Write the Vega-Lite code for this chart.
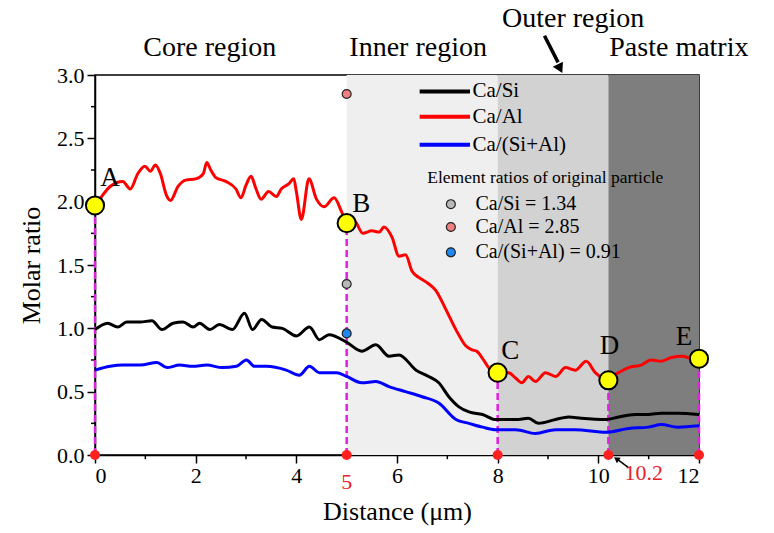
{
  "$schema": "https://vega.github.io/schema/vega-lite/v6.json",
  "width": 604,
  "height": 380,
  "autosize": {"type": "none"},
  "padding": {"left": 95, "top": 75, "right": 75, "bottom": 78},
  "background": "white",
  "config": {
    "font": "Liberation Serif",
    "view": {"stroke": "black", "strokeWidth": 1.5},
    "axis": {"labelFont": "Liberation Serif", "titleFont": "Liberation Serif"}
  },
  "datasets": {
    "regions": [
      {"r": "Inner", "x1": 5, "x2": 8, "y1": 0, "y2": 3},
      {"r": "Outer", "x1": 8, "x2": 10.2, "y1": 0, "y2": 3},
      {"r": "Paste", "x1": 10.2, "x2": 12, "y1": 0, "y2": 3}
    ],
    "xminor": [
      {"x": 1, "a": 0, "b": -0.033}, {"x": 3, "a": 0, "b": -0.033}, {"x": 5, "a": 0, "b": -0.033},
      {"x": 7, "a": 0, "b": -0.033}, {"x": 9, "a": 0, "b": -0.033}, {"x": 11, "a": 0, "b": -0.033}
    ],
    "yminor": [
      {"v": 0.25, "a": 0, "b": -0.08}, {"v": 0.75, "a": 0, "b": -0.08}, {"v": 1.25, "a": 0, "b": -0.08},
      {"v": 1.75, "a": 0, "b": -0.08}, {"v": 2.25, "a": 0, "b": -0.08}, {"v": 2.75, "a": 0, "b": -0.08}
    ],
    "lines": [
      {"s": "Ca/Si", "x": 0, "v": 0.99}, {"s": "Ca/Si", "x": 0.25, "v": 1.04}, {"s": "Ca/Si", "x": 0.45, "v": 1.01}, {"s": "Ca/Si", "x": 0.63, "v": 1.05}, {"s": "Ca/Si", "x": 0.9, "v": 1.05}, {"s": "Ca/Si", "x": 1.13, "v": 1.06}, {"s": "Ca/Si", "x": 1.33, "v": 0.99}, {"s": "Ca/Si", "x": 1.55, "v": 1.04}, {"s": "Ca/Si", "x": 1.75, "v": 1.05}, {"s": "Ca/Si", "x": 1.95, "v": 1.01}, {"s": "Ca/Si", "x": 2.08, "v": 1.04}, {"s": "Ca/Si", "x": 2.28, "v": 0.99}, {"s": "Ca/Si", "x": 2.47, "v": 1.03}, {"s": "Ca/Si", "x": 2.73, "v": 0.99}, {"s": "Ca/Si", "x": 2.97, "v": 1.12}, {"s": "Ca/Si", "x": 3.13, "v": 0.99}, {"s": "Ca/Si", "x": 3.31, "v": 1.07}, {"s": "Ca/Si", "x": 3.52, "v": 1.01}, {"s": "Ca/Si", "x": 3.72, "v": 1.0}, {"s": "Ca/Si", "x": 4.0, "v": 0.94}, {"s": "Ca/Si", "x": 4.26, "v": 1.01}, {"s": "Ca/Si", "x": 4.46, "v": 0.91}, {"s": "Ca/Si", "x": 4.65, "v": 0.95}, {"s": "Ca/Si", "x": 5.0, "v": 0.89}, {"s": "Ca/Si", "x": 5.3, "v": 0.82}, {"s": "Ca/Si", "x": 5.58, "v": 0.87}, {"s": "Ca/Si", "x": 5.84, "v": 0.78}, {"s": "Ca/Si", "x": 6.04, "v": 0.79}, {"s": "Ca/Si", "x": 6.38, "v": 0.67}, {"s": "Ca/Si", "x": 6.63, "v": 0.62}, {"s": "Ca/Si", "x": 6.83, "v": 0.57}, {"s": "Ca/Si", "x": 7.03, "v": 0.46}, {"s": "Ca/Si", "x": 7.23, "v": 0.38}, {"s": "Ca/Si", "x": 7.43, "v": 0.34}, {"s": "Ca/Si", "x": 7.7, "v": 0.32}, {"s": "Ca/Si", "x": 7.96, "v": 0.28}, {"s": "Ca/Si", "x": 8.36, "v": 0.28}, {"s": "Ca/Si", "x": 8.61, "v": 0.29}, {"s": "Ca/Si", "x": 8.81, "v": 0.25}, {"s": "Ca/Si", "x": 9.15, "v": 0.28}, {"s": "Ca/Si", "x": 9.41, "v": 0.3}, {"s": "Ca/Si", "x": 9.66, "v": 0.29}, {"s": "Ca/Si", "x": 10.16, "v": 0.28}, {"s": "Ca/Si", "x": 10.4, "v": 0.3}, {"s": "Ca/Si", "x": 10.73, "v": 0.32}, {"s": "Ca/Si", "x": 10.99, "v": 0.32}, {"s": "Ca/Si", "x": 11.25, "v": 0.33}, {"s": "Ca/Si", "x": 11.58, "v": 0.33}, {"s": "Ca/Si", "x": 12, "v": 0.32},
      {"s": "Ca/Al", "x": 0, "v": 1.97}, {"s": "Ca/Al", "x": 0.15, "v": 2.05}, {"s": "Ca/Al", "x": 0.3, "v": 2.12}, {"s": "Ca/Al", "x": 0.55, "v": 2.16}, {"s": "Ca/Al", "x": 0.7, "v": 2.1}, {"s": "Ca/Al", "x": 0.85, "v": 2.22}, {"s": "Ca/Al", "x": 0.99, "v": 2.28}, {"s": "Ca/Al", "x": 1.1, "v": 2.24}, {"s": "Ca/Al", "x": 1.2, "v": 2.29}, {"s": "Ca/Al", "x": 1.3, "v": 2.22}, {"s": "Ca/Al", "x": 1.42, "v": 2.05}, {"s": "Ca/Al", "x": 1.5, "v": 2.01}, {"s": "Ca/Al", "x": 1.65, "v": 2.12}, {"s": "Ca/Al", "x": 1.8, "v": 2.17}, {"s": "Ca/Al", "x": 2.0, "v": 2.18}, {"s": "Ca/Al", "x": 2.15, "v": 2.22}, {"s": "Ca/Al", "x": 2.22, "v": 2.31}, {"s": "Ca/Al", "x": 2.3, "v": 2.25}, {"s": "Ca/Al", "x": 2.4, "v": 2.19}, {"s": "Ca/Al", "x": 2.6, "v": 2.16}, {"s": "Ca/Al", "x": 2.8, "v": 2.1}, {"s": "Ca/Al", "x": 2.9, "v": 2.03}, {"s": "Ca/Al", "x": 3.0, "v": 2.13}, {"s": "Ca/Al", "x": 3.1, "v": 2.2}, {"s": "Ca/Al", "x": 3.2, "v": 2.1}, {"s": "Ca/Al", "x": 3.3, "v": 2.02}, {"s": "Ca/Al", "x": 3.45, "v": 2.08}, {"s": "Ca/Al", "x": 3.6, "v": 2.04}, {"s": "Ca/Al", "x": 3.7, "v": 2.1}, {"s": "Ca/Al", "x": 3.85, "v": 2.14}, {"s": "Ca/Al", "x": 3.95, "v": 2.18}, {"s": "Ca/Al", "x": 4.0, "v": 2.08}, {"s": "Ca/Al", "x": 4.1, "v": 1.86}, {"s": "Ca/Al", "x": 4.25, "v": 2.18}, {"s": "Ca/Al", "x": 4.4, "v": 2.02}, {"s": "Ca/Al", "x": 4.55, "v": 1.96}, {"s": "Ca/Al", "x": 4.75, "v": 2.03}, {"s": "Ca/Al", "x": 4.9, "v": 1.92}, {"s": "Ca/Al", "x": 5.0, "v": 1.83}, {"s": "Ca/Al", "x": 5.15, "v": 1.85}, {"s": "Ca/Al", "x": 5.32, "v": 1.75}, {"s": "Ca/Al", "x": 5.5, "v": 1.77}, {"s": "Ca/Al", "x": 5.65, "v": 1.76}, {"s": "Ca/Al", "x": 5.74, "v": 1.8}, {"s": "Ca/Al", "x": 5.9, "v": 1.72}, {"s": "Ca/Al", "x": 6.04, "v": 1.57}, {"s": "Ca/Al", "x": 6.17, "v": 1.58}, {"s": "Ca/Al", "x": 6.3, "v": 1.45}, {"s": "Ca/Al", "x": 6.44, "v": 1.4}, {"s": "Ca/Al", "x": 6.6, "v": 1.36}, {"s": "Ca/Al", "x": 6.77, "v": 1.3}, {"s": "Ca/Al", "x": 6.97, "v": 1.15}, {"s": "Ca/Al", "x": 7.17, "v": 0.99}, {"s": "Ca/Al", "x": 7.37, "v": 0.86}, {"s": "Ca/Al", "x": 7.49, "v": 0.83}, {"s": "Ca/Al", "x": 7.58, "v": 0.82}, {"s": "Ca/Al", "x": 7.72, "v": 0.75}, {"s": "Ca/Al", "x": 7.82, "v": 0.69}, {"s": "Ca/Al", "x": 7.96, "v": 0.65}, {"s": "Ca/Al", "x": 8.1, "v": 0.64}, {"s": "Ca/Al", "x": 8.22, "v": 0.65}, {"s": "Ca/Al", "x": 8.35, "v": 0.61}, {"s": "Ca/Al", "x": 8.48, "v": 0.57}, {"s": "Ca/Al", "x": 8.61, "v": 0.62}, {"s": "Ca/Al", "x": 8.75, "v": 0.58}, {"s": "Ca/Al", "x": 8.95, "v": 0.65}, {"s": "Ca/Al", "x": 9.15, "v": 0.62}, {"s": "Ca/Al", "x": 9.35, "v": 0.69}, {"s": "Ca/Al", "x": 9.54, "v": 0.67}, {"s": "Ca/Al", "x": 9.76, "v": 0.74}, {"s": "Ca/Al", "x": 9.94, "v": 0.65}, {"s": "Ca/Al", "x": 10.16, "v": 0.6}, {"s": "Ca/Al", "x": 10.4, "v": 0.65}, {"s": "Ca/Al", "x": 10.6, "v": 0.69}, {"s": "Ca/Al", "x": 10.85, "v": 0.71}, {"s": "Ca/Al", "x": 11.05, "v": 0.75}, {"s": "Ca/Al", "x": 11.25, "v": 0.74}, {"s": "Ca/Al", "x": 11.45, "v": 0.77}, {"s": "Ca/Al", "x": 11.68, "v": 0.78}, {"s": "Ca/Al", "x": 11.85, "v": 0.76}, {"s": "Ca/Al", "x": 12, "v": 0.76},
      {"s": "Ca/(Si+Al)", "x": 0, "v": 0.67}, {"s": "Ca/(Si+Al)", "x": 0.3, "v": 0.7}, {"s": "Ca/(Si+Al)", "x": 0.55, "v": 0.71}, {"s": "Ca/(Si+Al)", "x": 0.9, "v": 0.71}, {"s": "Ca/(Si+Al)", "x": 1.23, "v": 0.73}, {"s": "Ca/(Si+Al)", "x": 1.43, "v": 0.69}, {"s": "Ca/(Si+Al)", "x": 1.68, "v": 0.71}, {"s": "Ca/(Si+Al)", "x": 1.94, "v": 0.7}, {"s": "Ca/(Si+Al)", "x": 2.22, "v": 0.71}, {"s": "Ca/(Si+Al)", "x": 2.53, "v": 0.69}, {"s": "Ca/(Si+Al)", "x": 2.81, "v": 0.7}, {"s": "Ca/(Si+Al)", "x": 3.01, "v": 0.75}, {"s": "Ca/(Si+Al)", "x": 3.17, "v": 0.7}, {"s": "Ca/(Si+Al)", "x": 3.41, "v": 0.7}, {"s": "Ca/(Si+Al)", "x": 3.8, "v": 0.67}, {"s": "Ca/(Si+Al)", "x": 4.06, "v": 0.63}, {"s": "Ca/(Si+Al)", "x": 4.26, "v": 0.7}, {"s": "Ca/(Si+Al)", "x": 4.46, "v": 0.65}, {"s": "Ca/(Si+Al)", "x": 4.8, "v": 0.65}, {"s": "Ca/(Si+Al)", "x": 5.0, "v": 0.62}, {"s": "Ca/(Si+Al)", "x": 5.3, "v": 0.57}, {"s": "Ca/(Si+Al)", "x": 5.58, "v": 0.58}, {"s": "Ca/(Si+Al)", "x": 5.84, "v": 0.54}, {"s": "Ca/(Si+Al)", "x": 6.17, "v": 0.5}, {"s": "Ca/(Si+Al)", "x": 6.5, "v": 0.46}, {"s": "Ca/(Si+Al)", "x": 6.83, "v": 0.41}, {"s": "Ca/(Si+Al)", "x": 7.17, "v": 0.28}, {"s": "Ca/(Si+Al)", "x": 7.43, "v": 0.25}, {"s": "Ca/(Si+Al)", "x": 7.7, "v": 0.22}, {"s": "Ca/(Si+Al)", "x": 7.96, "v": 0.2}, {"s": "Ca/(Si+Al)", "x": 8.36, "v": 0.2}, {"s": "Ca/(Si+Al)", "x": 8.75, "v": 0.17}, {"s": "Ca/(Si+Al)", "x": 9.15, "v": 0.2}, {"s": "Ca/(Si+Al)", "x": 9.54, "v": 0.2}, {"s": "Ca/(Si+Al)", "x": 10.16, "v": 0.18}, {"s": "Ca/(Si+Al)", "x": 10.6, "v": 0.21}, {"s": "Ca/(Si+Al)", "x": 10.99, "v": 0.22}, {"s": "Ca/(Si+Al)", "x": 11.25, "v": 0.24}, {"s": "Ca/(Si+Al)", "x": 11.58, "v": 0.22}, {"s": "Ca/(Si+Al)", "x": 12, "v": 0.23}
    ],
    "keypts": [
      {"k": "A", "x": 0, "v": 1.97, "z": 0, "lx": 0.3, "ly": 2.19},
      {"k": "B", "x": 5, "v": 1.83, "z": 0, "lx": 5.29, "ly": 1.98},
      {"k": "C", "x": 8, "v": 0.65, "z": 0, "lx": 8.25, "ly": 0.82},
      {"k": "D", "x": 10.2, "v": 0.59, "z": 0, "lx": 10.22, "ly": 0.86},
      {"k": "E", "x": 12, "v": 0.76, "z": 0, "lx": 11.7, "ly": 0.93}
    ],
    "orig": [
      {"p": "Ca/Si = 1.34", "x": 5, "v": 1.35, "lx": 7.07, "tx": 7.56, "ly": 1.98},
      {"p": "Ca/Al = 2.85", "x": 5, "v": 2.85, "lx": 7.07, "tx": 7.56, "ly": 1.8},
      {"p": "Ca/(Si+Al) = 0.91", "x": 5, "v": 0.96, "lx": 7.07, "tx": 7.56, "ly": 1.6}
    ],
    "legend": [
      {"s": "Ca/Si", "x1": 6.45, "x2": 7.45, "tx": 7.5, "ly": 2.87},
      {"s": "Ca/Al", "x1": 6.45, "x2": 7.45, "tx": 7.5, "ly": 2.67},
      {"s": "Ca/(Si+Al)", "x1": 6.45, "x2": 7.45, "tx": 7.5, "ly": 2.45}
    ],
    "titles": [
      {"t": "Core region", "x": 2.28, "v": 3.21},
      {"t": "Inner region", "x": 6.42, "v": 3.21},
      {"t": "Outer region", "x": 9.5, "v": 3.44},
      {"t": "Paste matrix", "x": 11.6, "v": 3.21}
    ]
  },
  "layer": [
    {
      "data": {"name": "regions"},
      "mark": {"type": "rect"},
      "encoding": {
        "x": {"field": "x1", "type": "quantitative", "scale": {"domain": [0, 12], "nice": false, "zero": false},
          "axis": {"title": "Distance (μm)", "values": [0,2,4,6,8,10,12],
            "grid": false, "domainColor": "black", "domainWidth": 1.5, "tickColor": "black", "tickWidth": 1.5, "tickSize": 8,
            "labelFont": "Liberation Serif", "labelFontSize": 22, "labelColor": "black", "labelPadding": 2,
            "titleFont": "Liberation Serif", "titleFontSize": 26, "titleFontWeight": "normal", "titleColor": "black", "titlePadding": 12}},
        "x2": {"field": "x2"},
        "y": {"field": "y1", "type": "quantitative", "scale": {"domain": [0, 3], "nice": false, "zero": false},
          "axis": {"title": "Molar ratio", "values": [0,0.5,1,1.5,2,2.5,3], "format": ".1f",
            "grid": false, "domainColor": "black", "domainWidth": 1.5, "tickColor": "black", "tickWidth": 1.5, "tickSize": 8,
            "labelFont": "Liberation Serif", "labelFontSize": 22, "labelColor": "black", "labelPadding": 3,
            "titleFont": "Liberation Serif", "titleFontSize": 26, "titleFontWeight": "normal", "titleColor": "black", "titlePadding": 12}},
        "y2": {"field": "y2"},
        "color": {"field": "r", "type": "nominal", "scale": {"domain": ["Inner", "Outer", "Paste"], "range": ["#efefef", "#d2d2d2", "#7e7e7e"]}, "legend": null}
      }
    },
    {
      "data": {"name": "xminor"},
      "mark": {"type": "rule", "stroke": "black", "strokeWidth": 1.5},
      "encoding": {"x": {"field": "x", "type": "quantitative"}, "y": {"field": "a", "type": "quantitative"}, "y2": {"field": "b"}}
    },
    {
      "data": {"name": "yminor"},
      "mark": {"type": "rule", "stroke": "black", "strokeWidth": 1.5},
      "encoding": {"y": {"field": "v", "type": "quantitative"}, "x": {"field": "a", "type": "quantitative"}, "x2": {"field": "b"}}
    },
    {
      "data": {"name": "keypts"},
      "mark": {"type": "rule", "color": "#e020e0", "strokeWidth": 2.5, "strokeDash": [7, 4]},
      "encoding": {"x": {"field": "x", "type": "quantitative"}, "y": {"field": "z", "type": "quantitative"}, "y2": {"field": "v"}}
    },
    {
      "data": {"name": "lines"},
      "mark": {"type": "line", "strokeWidth": 3, "interpolate": "monotone"},
      "encoding": {
        "x": {"field": "x", "type": "quantitative"},
        "y": {"field": "v", "type": "quantitative"},
        "stroke": {"field": "s", "type": "nominal", "scale": {"domain": ["Ca/Si", "Ca/Al", "Ca/(Si+Al)"], "range": ["#000000", "#ff0000", "#0000ff"]}, "legend": null}
      }
    },
    {
      "data": {"name": "keypts"},
      "mark": {"type": "point", "shape": "circle", "filled": true, "fill": "#ff2020", "size": 100, "opacity": 1},
      "encoding": {"x": {"field": "x", "type": "quantitative"}, "y": {"field": "z", "type": "quantitative"}}
    },
    {
      "data": {"name": "keypts"},
      "mark": {"type": "point", "shape": "circle", "filled": true, "fill": "#ffff00", "stroke": "black", "strokeWidth": 2, "size": 330, "opacity": 1},
      "encoding": {"x": {"field": "x", "type": "quantitative"}, "y": {"field": "v", "type": "quantitative"}}
    },
    {
      "data": {"name": "keypts"},
      "mark": {"type": "text", "fontSize": 27, "fill": "black", "align": "center", "baseline": "middle", "font": "Liberation Serif"},
      "encoding": {"x": {"field": "lx", "type": "quantitative"}, "y": {"field": "ly", "type": "quantitative"}, "text": {"field": "k", "type": "nominal"}}
    },
    {
      "data": {"name": "orig"},
      "mark": {"type": "point", "shape": "circle", "filled": true, "stroke": "#222222", "strokeWidth": 1.2, "size": 80, "opacity": 1},
      "encoding": {
        "x": {"field": "x", "type": "quantitative"},
        "y": {"field": "v", "type": "quantitative"},
        "fill": {"field": "p", "type": "nominal", "scale": {"domain": ["Ca/Si = 1.34", "Ca/Al = 2.85", "Ca/(Si+Al) = 0.91"], "range": ["#b8b8b8", "#f08080", "#1e88f0"]}, "legend": null}
      }
    },
    {
      "data": {"name": "orig"},
      "mark": {"type": "point", "shape": "circle", "filled": true, "stroke": "#222222", "strokeWidth": 1.2, "size": 80, "opacity": 1},
      "encoding": {
        "x": {"field": "lx", "type": "quantitative"},
        "y": {"field": "ly", "type": "quantitative"},
        "fill": {"field": "p", "type": "nominal", "legend": null}
      }
    },
    {
      "data": {"name": "orig"},
      "mark": {"type": "text", "fontSize": 20, "fill": "black", "align": "left", "baseline": "middle", "font": "Liberation Serif"},
      "encoding": {"x": {"field": "tx", "type": "quantitative"}, "y": {"field": "ly", "type": "quantitative"}, "text": {"field": "p", "type": "nominal"}}
    },
    {
      "data": {"values": [{"t": "Element ratios of original particle", "x": 6.6, "v": 2.19}]},
      "mark": {"type": "text", "fontSize": 17.5, "fill": "black", "align": "left", "baseline": "middle", "font": "Liberation Serif"},
      "encoding": {"x": {"field": "x", "type": "quantitative"}, "y": {"field": "v", "type": "quantitative"}, "text": {"field": "t", "type": "nominal"}}
    },
    {
      "data": {"name": "legend"},
      "mark": {"type": "rule", "strokeWidth": 4},
      "encoding": {
        "x": {"field": "x1", "type": "quantitative"}, "x2": {"field": "x2"},
        "y": {"field": "ly", "type": "quantitative"},
        "stroke": {"field": "s", "type": "nominal", "legend": null}
      }
    },
    {
      "data": {"name": "legend"},
      "mark": {"type": "text", "fontSize": 21, "fill": "black", "align": "left", "baseline": "middle", "font": "Liberation Serif"},
      "encoding": {"x": {"field": "tx", "type": "quantitative"}, "y": {"field": "ly", "type": "quantitative"}, "text": {"field": "s", "type": "nominal"}}
    },
    {
      "data": {"name": "titles"},
      "mark": {"type": "text", "fontSize": 28, "fill": "black", "align": "center", "baseline": "middle", "font": "Liberation Serif"},
      "encoding": {"x": {"field": "x", "type": "quantitative"}, "y": {"field": "v", "type": "quantitative"}, "text": {"field": "t", "type": "nominal"}}
    },
    {
      "data": {"values": [{"a": "o", "x": 8.93, "v": 3.31}, {"a": "o", "x": 9.2, "v": 3.1}]},
      "mark": {"type": "line", "stroke": "black", "strokeWidth": 3.5},
      "encoding": {"x": {"field": "x", "type": "quantitative"}, "y": {"field": "v", "type": "quantitative"}, "detail": {"field": "a", "type": "nominal"}}
    },
    {
      "data": {"values": [{"a": "t", "x": 10.6, "v": -0.1}, {"a": "t", "x": 10.38, "v": -0.035}]},
      "mark": {"type": "line", "stroke": "black", "strokeWidth": 1.5},
      "encoding": {"x": {"field": "x", "type": "quantitative"}, "y": {"field": "v", "type": "quantitative"}, "detail": {"field": "a", "type": "nominal"}}
    },
    {
      "data": {"values": [{"x": 9.24, "v": 3.05}]},
      "mark": {"type": "point", "shape": "triangle-down", "filled": true, "fill": "black", "size": 130, "angle": 333, "opacity": 1},
      "encoding": {"x": {"field": "x", "type": "quantitative"}, "y": {"field": "v", "type": "quantitative"}}
    },
    {
      "data": {"values": [{"x": 10.36, "v": -0.03}]},
      "mark": {"type": "point", "shape": "triangle-up", "filled": true, "fill": "black", "size": 45, "angle": 305, "opacity": 1},
      "encoding": {"x": {"field": "x", "type": "quantitative"}, "y": {"field": "v", "type": "quantitative"}}
    },
    {
      "data": {"values": [{"t": "5", "x": 5, "v": -0.21}, {"t": "10.2", "x": 10.9, "v": -0.14}]},
      "mark": {"type": "text", "fontSize": 22, "fill": "#e8202a", "align": "center", "baseline": "middle", "font": "Liberation Serif"},
      "encoding": {"x": {"field": "x", "type": "quantitative"}, "y": {"field": "v", "type": "quantitative"}, "text": {"field": "t", "type": "nominal"}}
    }
  ]
}
